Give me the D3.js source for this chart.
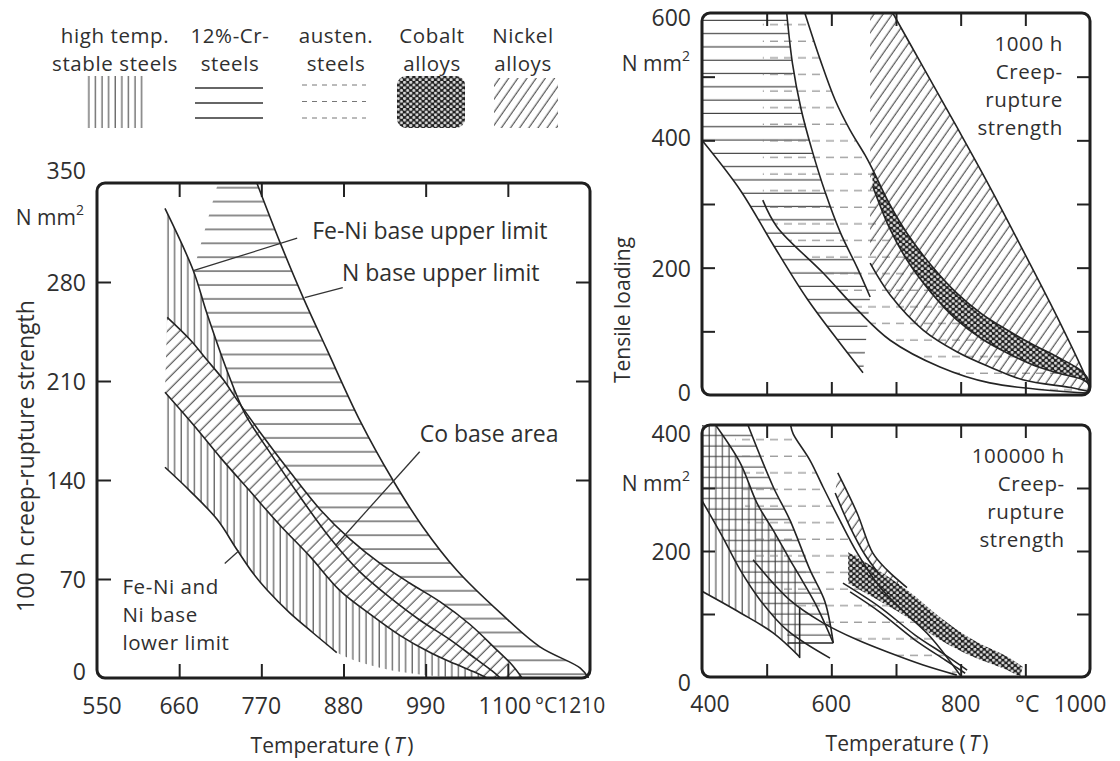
<!DOCTYPE html>
<html>
<head>
<meta charset="utf-8">
<title>Creep-rupture strength of high temperature alloys</title>
<script src="https://d3js.org/d3.v7.min.js"></script>
<style>
body { margin: 0; background: #fff; }
text { font-family: "Open Sans", sans-serif; font-size: 23px; fill: #2f2f2f; }
.block { font-size: 20.5px; letter-spacing: 0.6px; }
.frame { fill: none; stroke: #1f1f1f; stroke-width: 3; }
.curve { fill: none; stroke: #242424; stroke-width: 1.6; }
.leader { fill: none; stroke: #333; stroke-width: 1.3; }
</style>
</head>
<body>
<svg id="fig" width="1120" height="761"></svg>
<script>

// ---------- legend ----------
var legendNames = [["high temp.", "stable steels"], ["12%-Cr-", "steels"], ["austen.", "steels"], ["Cobalt", "alloys"], ["Nickel", "alloys"]];

// ---------- left panel: 100 h creep-rupture strength, [temperature °C, N/mm2] ----------
var leftTempLabels = [550, 660, 770, 880, 990, 1100];
var leftTempTicks = [660, 770, 880, 990, 1100];
var leftStressLabels = [0, 70, 140, 210, 280, 350];
var leftStressTicks = [70, 140, 210, 280];

var feNiUpper = [[641, 332], [679, 288], [697, 258], [725, 216], [748, 187], [782, 159], [822, 128], [862, 99], [902, 75], [942, 57], [982, 41], [1023, 27], [1056, 14], [1079, 5], [1090, 0]];
var coTop = [[644, 255], [675, 239], [697, 225], [719, 211], [737, 197], [768, 174], [808, 146], [849, 119], [889, 98], [929, 81], [969, 67], [1009, 54], [1049, 38], [1083, 21], [1106, 9], [1119, 0]];
var coBottom = [[641, 202], [679, 179], [715, 156], [755, 132], [795, 108], [835, 86], [875, 62], [916, 45], [956, 30], [996, 18], [1029, 10], [1056, 4], [1072, 0]];
var lowerLimit = [[641, 149], [675, 132], [711, 112], [737, 91], [759, 74], [778, 62], [808, 46], [839, 32], [871, 18]];
var lowerTail = [[871, 18], [930, 7], [990, 2], [1050, 0]];
var niUpper = [[764, 350], [795, 308], [826, 269], [858, 232], [902, 182], [946, 140], [986, 107], [1032, 76], [1090, 46], [1143, 22], [1197, 7], [1208, 0]];
var niHatchCorner = [[712, 350]];

var leftNotes = [
  { text: ["Fe-Ni base upper limit"], at: [838, 317], to: [[818, 311], [679, 288]] },
  { text: ["N base upper limit"], at: [878, 287], to: [[879, 276], [828, 269]] },
  { text: ["Co base area"], at: [982, 173], to: [[982, 160], [870, 94]] },
  { text: ["Fe-Ni and", "Ni base", "lower limit"], at: [584, 65], to: [[721, 81], [740, 90]] }
];

// ---------- right panels: 1000 h and 100000 h ----------
var rightTempLabels = [400, 600, 800, 1000];
var rightTempTicks = [500, 600, 700, 800, 900];

var topStressLabels = [0, 200, 400, 600];
var topStressTicks = [100, 200, 300, 400, 500];
var crLow1000 = [[400, 400], [459, 322], [510, 236], [562, 152], [613, 82], [649, 35]];
var crHigh1000 = [[531, 600], [540, 520], [553, 450], [570, 385], [590, 320], [614, 255], [640, 200], [660, 154]];
var austLow1000 = [[494, 306], [516, 264], [587, 192], [640, 134], [691, 86], [768, 44], [845, 19], [997, 3]];
var austHigh1000 = [[559, 600], [583, 526], [606, 463], [629, 416], [652, 377]];
var coHigh1000 = [[663, 356], [690, 300], [717, 254], [755, 203], [794, 160], [833, 127], [872, 102], [910, 80], [949, 60], [989, 36], [1000, 19]];
var coLow1000 = [[664, 328], [690, 262], [717, 212], [755, 160], [794, 118], [833, 88], [872, 66], [910, 48], [949, 35], [989, 24], [1000, 16]];
var niLow1000 = [[660, 207], [691, 157], [742, 102], [794, 68], [845, 44], [896, 24], [974, 11], [1000, 5]];
var niHigh1000 = [[695, 600], [742, 515], [794, 421], [845, 327], [896, 228], [949, 123], [995, 24], [1000, 8]];
var topNote = ["1000 h", "Creep-", "rupture", "strength"];

var bottomStressLabels = [0, 200, 400];
var bottomStressTicks = [100, 200, 300];
var crEdge100k = [[421, 400], [459, 340], [485, 276], [510, 233], [536, 186], [551, 160]];
var crEdgeTail100k = [[551, 160], [578, 111], [603, 54]];
var stableLow100k = [[400, 136], [459, 102], [510, 70], [551, 32]];
var stableCut100k = [[551, 111], [551, 30]];
var crLow100k = [[400, 280], [432, 222], [459, 170], [490, 122], [532, 74], [598, 30]];
var crHigh100k = [[471, 400], [510, 302], [536, 249], [567, 170], [590, 120], [603, 54]];
var crFoot100k = [[532, 54], [603, 54]];
var austHigh100k = [[537, 400], [541, 386], [567, 344], [587, 302], [613, 249], [640, 197], [675, 143], [714, 102], [753, 64], [800, 2]];
var austLow100k = [[479, 186], [536, 122], [587, 86], [640, 59], [691, 38], [742, 19], [794, 3]];
var austCorner100k = [[448, 400]];
var niHigh100k = [[610, 324], [640, 260], [664, 197], [686, 170], [717, 142]];
var niLow100k = [[606, 292], [629, 238], [652, 194], [675, 162]];
var niTailA100k = [[618, 149], [675, 111], [729, 67], [776, 35], [810, 11]];
var niTailB100k = [[629, 135], [675, 103], [729, 59], [776, 27], [807, 6]];
var coHigh100k = [[626, 198], [664, 175], [717, 138], [768, 95], [819, 59], [872, 32], [896, 16]];
var coLow100k = [[626, 149], [664, 127], [717, 95], [768, 59], [819, 32], [872, 11], [892, 0]];
var bottomNote = ["100000 h", "Creep-", "rupture", "strength"];

// ---------- setup ----------
var svg = d3.select("#fig");
var defs = svg.append("defs");

function linePattern(id, w, h, rot, pts, color, width) {
  var p = defs.append("pattern").attr("id", id).attr("patternUnits", "userSpaceOnUse")
    .attr("width", w).attr("height", h);
  if (rot) p.attr("patternTransform", "rotate(" + rot + ")");
  p.append("line").attr("x1", pts[0]).attr("y1", pts[1]).attr("x2", pts[2]).attr("y2", pts[3])
    .attr("stroke", color).attr("stroke-width", width || 1);
}
linePattern("vert", 6.6, 10, 0, [3, 0, 3, 10], "#333");
linePattern("horizL", 10, 13.9, 0, [0, 7, 10, 7], "#333", 1.1);
linePattern("horizT", 10, 13.3, 0, [0, 7, 10, 7], "#333", 1.1);
linePattern("horizB", 10, 10.5, 0, [0, 5, 10, 5], "#333");
linePattern("dash", 14, 16.6, 0, [0, 8, 8, 8], "#777");
linePattern("diagL", 8.5, 10, 45, [4, 0, 4, 10], "#333");
linePattern("diagR", 7.5, 10, 35, [4, 0, 4, 10], "#333");

var cob = defs.append("pattern").attr("id", "cobalt").attr("patternUnits", "userSpaceOnUse")
  .attr("width", 6.2).attr("height", 5.4);
cob.append("rect").attr("width", 6.2).attr("height", 5.4).attr("fill", "#1e1e1e");
cob.append("circle").attr("cx", 1.55).attr("cy", 1.35).attr("r", 1.55).attr("fill", "#d8d8d8");
cob.append("circle").attr("cx", 4.65).attr("cy", 4.05).attr("r", 1.55).attr("fill", "#d8d8d8");

// scales
var xL = d3.scaleLinear().domain([550, 1210]).range([97, 590]);
var yL = d3.scaleLinear().domain([0, 350]).range([678, 183]);
var xR = d3.scaleLinear().domain([400, 1000]).range([702, 1090]);
var yT = d3.scaleLinear().domain([0, 600]).range([395, 13]);
var yB = d3.scaleLinear().domain([0, 400]).range([677, 425]);

function lineFor(x, y) {
  return d3.line().x(function (d) { return x(d[0]); }).y(function (d) { return y(d[1]); })
    .curve(d3.curveCatmullRom.alpha(0.5));
}

// closed outline from several pieces, each one smoothed on its own
function regionPath(x, y, pieces) {
  var line = lineFor(x, y), d = "";
  pieces.forEach(function (p) {
    var s = p.length > 1 ? line(p) : "M" + x(p[0][0]) + "," + y(p[0][1]);
    d += d ? "L" + s.slice(1) : s;
  });
  return d + "Z";
}
function rev(a) { return a.slice().reverse(); }

function panel(id, x, y) {
  var x0 = x.range()[0], x1 = x.range()[1], y0 = y.range()[1], y1 = y.range()[0];
  defs.append("clipPath").attr("id", id).append("rect")
    .attr("x", x0).attr("y", y0).attr("width", x1 - x0).attr("height", y1 - y0);
  var g = svg.append("g");
  var plot = g.append("g").attr("clip-path", "url(#" + id + ")");
  return { g: g, plot: plot, box: [x0, y0, x1, y1] };
}

function fillRegion(p, x, y, pieces, fill, white) {
  var d = regionPath(x, y, pieces);
  if (white) p.plot.append("path").attr("d", d).attr("fill", "#fff");
  p.plot.append("path").attr("d", d).attr("fill", fill);
}
function strokeCurves(p, x, y, list) {
  var line = lineFor(x, y);
  p.plot.selectAll(null).data(list).join("path").attr("class", "curve").attr("d", line);
}

function frameAndTicks(p, x, y, xt, yt, len) {
  var b = p.box;
  function clean(sel) {
    sel.select(".domain").remove();
    sel.selectAll("line").attr("stroke", "#222").attr("stroke-width", 2);
  }
  p.g.append("g").attr("transform", "translate(0," + b[3] + ")")
    .call(d3.axisBottom(x).tickValues(xt).tickSize(-len).tickFormat("")).call(clean);
  p.g.append("g").attr("transform", "translate(0," + b[1] + ")")
    .call(d3.axisTop(x).tickValues(xt).tickSize(-len).tickFormat("")).call(clean);
  p.g.append("g").attr("transform", "translate(" + b[0] + ",0)")
    .call(d3.axisLeft(y).tickValues(yt).tickSize(-len).tickFormat("")).call(clean);
  p.g.append("g").attr("transform", "translate(" + b[2] + ",0)")
    .call(d3.axisRight(y).tickValues(yt).tickSize(-len).tickFormat("")).call(clean);
  p.g.append("rect").attr("class", "frame").attr("x", b[0]).attr("y", b[1])
    .attr("width", b[2] - b[0]).attr("height", b[3] - b[1]).attr("rx", 8);
}

function addText(g, x, y, str, anchor) {
  return g.append("text").attr("x", x).attr("y", y).attr("text-anchor", anchor || "middle")
    .attr("dominant-baseline", "central").text(str);
}
// several lines kept in one text element
function addLines(g, x, y, lines, anchor, lh) {
  var t = g.append("text").attr("class", "block").attr("x", x).attr("y", y).attr("text-anchor", anchor || "middle")
    .attr("dominant-baseline", "central");
  lines.forEach(function (s, k) {
    t.append("tspan").attr("x", x).attr("dy", k ? lh : 0).attr("dominant-baseline", "central").text(s);
  });
  return t;
}
function unitLabel(g, xRight, y) {
  var t = g.append("text").attr("x", xRight).attr("y", y).attr("text-anchor", "end")
    .attr("dominant-baseline", "central").style("font-size", "21px");
  t.append("tspan").text("N mm");
  t.append("tspan").attr("dy", -8).style("font-size", "14px").text("2");
}
function tempTitle(g, cx, cy) {
  var t = g.append("text").attr("x", cx).attr("y", cy).attr("text-anchor", "middle")
    .attr("dominant-baseline", "central").style("font-size", "21px");
  t.append("tspan").text("Temperature (");
  t.append("tspan").attr("dx", 3).style("font-style", "italic").text("T");
  t.append("tspan").attr("dx", 3).text(")");
}

// ---------- legend ----------
var legendX = [115, 230, 336, 432, 523];
var lg = svg.append("g");
legendNames.forEach(function (lines, i) { addLines(lg, legendX[i], 35, lines, "middle", 28); });
lg.append("rect").attr("x", 85).attr("y", 76).attr("width", 62).attr("height", 52).attr("fill", "url(#vert)");
lg.selectAll(null).data([0, 1, 2]).join("line")
  .attr("x1", 195).attr("x2", 263).attr("y1", function (i) { return 88 + i * 15; })
  .attr("y2", function (i) { return 88 + i * 15; }).attr("stroke", "#333").attr("stroke-width", 1.3);
lg.selectAll(null).data([0, 1, 2]).join("line")
  .attr("x1", 302).attr("x2", 366).attr("y1", function (i) { return 85 + i * 16.5; })
  .attr("y2", function (i) { return 85 + i * 16.5; }).attr("stroke", "#777").attr("stroke-width", 1)
  .attr("stroke-dasharray", "5,5");
lg.append("rect").attr("x", 397).attr("y", 76).attr("width", 68).attr("height", 52).attr("rx", 9).attr("fill", "url(#cobalt)");
lg.append("rect").attr("x", 494).attr("y", 78).attr("width", 64).attr("height", 50).attr("fill", "url(#diagR)");

// ---------- left panel ----------
var L = panel("clipL", xL, yL);
var lowerFull = lowerLimit.concat(lowerTail.slice(1));
fillRegion(L, xL, yL, [niHatchCorner, niUpper, rev(feNiUpper.slice(1))], "url(#horizL)");
fillRegion(L, xL, yL, [feNiUpper, rev(lowerFull)], "url(#vert)");
fillRegion(L, xL, yL, [coTop, rev(coBottom)], "url(#diagL)", true);
strokeCurves(L, xL, yL, [lowerLimit, feNiUpper, coTop, coBottom, niUpper]);
frameAndTicks(L, xL, yL, leftTempTicks, leftStressTicks, 14);

leftNotes.forEach(function (n) {
  L.g.append("path").attr("class", "leader").attr("d", d3.line().x(function (d) { return xL(d[0]); }).y(function (d) { return yL(d[1]); })(n.to));
  var t = addLines(L.g, xL(n.at[0]), yL(n.at[1]), n.text, "start", 28);
  if (n.text.length === 1) t.classed("block", false);
});

leftStressLabels.forEach(function (v) {
  var shift = v === 350 ? -13 : (v === 0 ? -7 : 0);
  addText(L.g, 86, yL(v) + shift, v, "end");
});
leftTempLabels.forEach(function (v) {
  addText(L.g, xL(v) + (v === 550 ? 5 : 0) - (v === 1100 ? 3 : 0), 705, v);
});
// unit and last label sit together at the right end of the axis
var endLab = L.g.append("text").attr("x", 535).attr("y", 705).attr("dominant-baseline", "central").style("font-size", "21px");
endLab.append("tspan").text("°C");
endLab.append("tspan").text(1210);
unitLabel(L.g, 84, 217);
addText(L.g, 0, 0, "100 h creep-rupture strength").attr("transform", "translate(25,456) rotate(-90)");
tempTitle(L.g, 332, 745);

// ---------- top right panel: 1000 h ----------
var T = panel("clipT", xR, yT);
fillRegion(T, xR, yT, [[[400, 600]], crHigh1000, rev(crLow1000)], "url(#horizT)");
fillRegion(T, xR, yT, [[[494, 600]], austHigh1000, coHigh1000, rev(austLow1000)], "url(#dash)");
fillRegion(T, xR, yT, [[[660, 600]], niHigh1000, rev(niLow1000)], "url(#diagR)");
fillRegion(T, xR, yT, [coHigh1000, rev(coLow1000)], "url(#cobalt)");
strokeCurves(T, xR, yT, [crLow1000, crHigh1000, austLow1000, austHigh1000.concat(coHigh1000), coLow1000, niLow1000, niHigh1000]);
frameAndTicks(T, xR, yT, rightTempTicks, topStressTicks, 13);
topStressLabels.forEach(function (v) {
  var shift = v === 600 ? 4 : (v === 400 ? -3 : (v === 0 ? -3 : 0));
  addText(T.g, 691, yT(v) + shift, v, "end");
});
unitLabel(T.g, 690, 63);
addLines(T.g, xR(958), yT(553), topNote, "end", 28);
addText(T.g, 0, 0, "Tensile loading").attr("transform", "translate(622,310) rotate(-90)").style("font-size", "21px");

// ---------- bottom right panel: 100000 h ----------
var B = panel("clipB", xR, yB);
fillRegion(B, xR, yB, [[[400, 400]], crHigh100k, [crFoot100k[0]], rev(crLow100k.filter(function (d) { return d[0] <= 532; }))], "url(#horizB)");
fillRegion(B, xR, yB, [[[400, 400]], crEdge100k, rev(stableLow100k)], "url(#vert)");
fillRegion(B, xR, yB, [austCorner100k, austHigh100k, rev(austLow100k)], "url(#dash)");
fillRegion(B, xR, yB, [niHigh100k, rev(niLow100k)], "url(#diagR)", true);
fillRegion(B, xR, yB, [coHigh100k, rev(coLow100k)], "url(#cobalt)");
strokeCurves(B, xR, yB, [crEdge100k.concat(crEdgeTail100k.slice(1)), stableLow100k, stableCut100k, crLow100k, crHigh100k, crFoot100k,
  austHigh100k, austLow100k, niHigh100k, niLow100k, niTailA100k, niTailB100k]);
frameAndTicks(B, xR, yB, rightTempTicks, bottomStressTicks, 13);
bottomStressLabels.forEach(function (v) {
  var shift = v === 400 ? 8 : (v === 0 ? 5 : 0);
  addText(B.g, 691, yB(v) + shift, v, "end");
});
rightTempLabels.forEach(function (v) {
  var xx = xR(v) + (v === 400 ? 8 : 0) + (v === 1000 ? -10 : 0);
  addText(B.g, xx, 703, v);
});
addText(B.g, xR(903), 703, "°C");
unitLabel(B.g, 690, 483);
addLines(B.g, xR(961), yB(352), bottomNote, "end", 28);
tempTitle(B.g, 907, 743);

</script>
</body>
</html>
